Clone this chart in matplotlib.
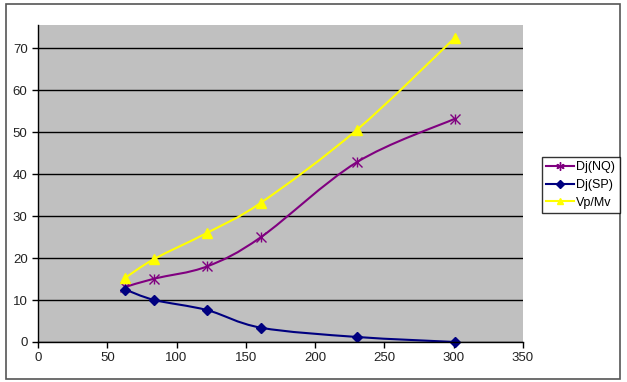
import matplotlib
matplotlib.use("Agg")
import matplotlib.pyplot as plt
import numpy as np
from matplotlib.path import Path
from matplotlib.patches import PathPatch, Rectangle
from matplotlib.lines import Line2D

# data
x_vals = [63, 84, 122, 161, 230, 301]
dj_nq = [13.1, 15.1, 18.0, 25.0, 42.8, 53.2]
dj_sp = [12.5, 10.0, 7.6, 3.4, 1.2, 0.0]
vp_mv = [15.3, 19.8, 26.0, 33.2, 50.5, 72.5]
series_names = ["Dj(NQ)", "Dj(SP)", "Vp/Mv"]
x_ticks = [0, 50, 100, 150, 200, 250, 300, 350]
y_ticks = [0, 10, 20, 30, 40, 50, 60, 70]

plt.rcParams['font.family'] = ['Liberation Sans', 'DejaVu Sans']


def smooth_path(xs, ys, tension=1.0 / 6):
    # excel-like smoothed line: cubic bezier through the points
    pts = np.column_stack([xs, ys]).astype(float)
    verts = [pts[0]]
    codes = [Path.MOVETO]
    n = len(pts)
    for i in range(n - 1):
        p0 = pts[i - 1] if i > 0 else pts[i]
        p1 = pts[i]
        p2 = pts[i + 1]
        p3 = pts[i + 2] if i + 2 < n else pts[i + 1]
        c1 = p1 + (p2 - p0) * tension
        c2 = p2 - (p3 - p1) * tension
        verts += [c1, c2, p2]
        codes += [Path.CURVE4] * 3
    return Path(verts, codes)


fig = plt.figure(figsize=(6.27, 3.82), dpi=100)
fig.patch.set_facecolor("white")
fig.patches.append(Rectangle((6 / 627, 3 / 382), 614 / 627, 375 / 382,
                             transform=fig.transFigure, fill=False,
                             edgecolor="#555555", linewidth=1.2))

ax = fig.add_axes([38 / 627, 40 / 382, 485 / 627, 317 / 382])
ax.set_facecolor("#C0C0C0")
ax.set_xlim(0, 350)
ax.set_ylim(0, 75.5)
ax.set_xticks(x_ticks)
ax.set_yticks(y_ticks)
ax.grid(axis="y", color="black", linewidth=1)
ax.set_axisbelow(True)
for s in ["top", "right"]:
    ax.spines[s].set_visible(False)
for s in ["left", "bottom"]:
    ax.spines[s].set_color("black")
    ax.spines[s].set_linewidth(1)
ax.tick_params(axis="both", labelsize=9.5, length=4, width=1, color="black",
               labelcolor="#222222", pad=3.5)

styles = [
    (dj_nq, "#800080", "x", 7, series_names[0]),
    (dj_sp, "#000080", "D", 5, series_names[1]),
    (vp_mv, "#FFFF00", "^", 7, series_names[2]),
]
handles = []
for ys, col, mk, ms, name in styles:
    ax.add_patch(PathPatch(smooth_path(x_vals, ys), fill=False,
                           edgecolor=col, linewidth=1.5, clip_on=False))
    if mk == "x":
        ax.plot(x_vals, ys, linestyle="none", marker="x", ms=ms, color=col,
                mew=1, clip_on=False)
        ax.plot(x_vals, ys, linestyle="none", marker="|", ms=ms, color=col,
                mew=1, clip_on=False)
        h = Line2D([], [], color=col, marker=(6, 2, 0), ms=6, lw=1.5, mew=1)
    else:
        ax.plot(x_vals, ys, linestyle="none", marker=mk, ms=ms, color=col,
                clip_on=False)
        h = Line2D([], [], color=col, marker=mk, ms=4, lw=1.5)
    handles.append(h)

leg = fig.legend(handles=handles, labels=series_names,
                 loc="upper left", bbox_to_anchor=(542 / 627, 1 - 157 / 382),
                 fontsize=9, frameon=True, fancybox=False,
                 edgecolor="black", handlelength=2.2, handletextpad=0.2,
                 borderpad=0.35, labelspacing=0.45, borderaxespad=0)
leg.get_frame().set_linewidth(1)

fig.savefig("out.png", dpi=100)
